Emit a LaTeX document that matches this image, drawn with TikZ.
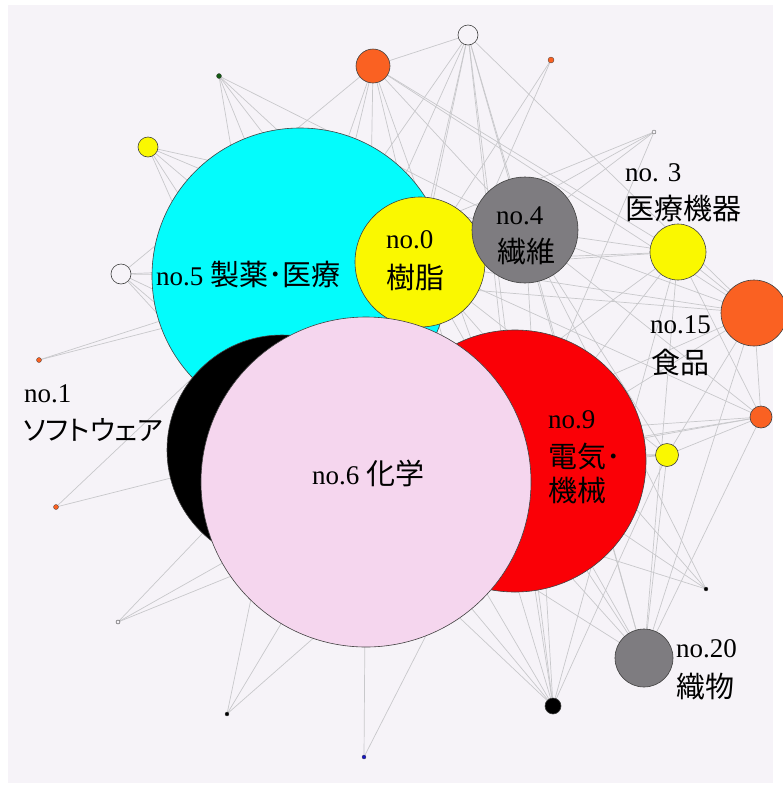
\documentclass[tikz,border=0pt]{standalone}
\usepackage{fontspec}
\setmainfont{Liberation Serif}
\newfontfamily\jpf{Noto Sans CJK JP}
\newfontfamily\jppf[RawFeature=+palt]{Noto Sans CJK JP}
\newcommand\jp{\jpf\fontsize{29}{32}\selectfont}
\newcommand\jpp{\jppf\fontsize{29}{32}\selectfont}
\newcommand\jps{\jppf\fontsize{27.5}{31}\selectfont}
\pgfdeclarelayer{bg}
\pgfdeclarelayer{edges}
\pgfsetlayers{bg,edges,main}
\definecolor{bgc}{RGB}{246,243,248}
\definecolor{cyanc}{RGB}{3,252,252}
\definecolor{yelc}{RGB}{250,248,0}
\definecolor{grayc}{RGB}{126,124,128}
\definecolor{orc}{RGB}{250,97,34}
\definecolor{redc}{RGB}{250,0,6}
\definecolor{pinkc}{RGB}{245,214,238}
\definecolor{edgec}{RGB}{200,200,203}
\definecolor{greenc}{RGB}{20,90,20}
\definecolor{bluec}{RGB}{20,20,200}
\tikzset{
  nd/.style={circle, draw=black!75, line width=0.6pt, inner sep=0pt, minimum size=#1},
  edge/.style={draw=edgec, line width=0.7pt},
  lab/.style={anchor=west, inner sep=0pt, font=\fontsize{27}{30}\selectfont},
}
\begin{document}
\begin{tikzpicture}[x=1pt,y=-1pt]
\useasboundingbox (0,0) rectangle (783,785);
\begin{pgfonlayer}{bg}
\fill[bgc] (8,5) rectangle (773,783);
\end{pgfonlayer}
% big nodes
\node[nd=296pt, fill=cyanc] (n5) at (300,276) {};
\node[nd=130pt, fill=yelc] (n0) at (420,262) {};
\node[nd=106pt, fill=grayc] (n4) at (525,230) {};
\node[nd=230pt, fill=black] (n1) at (282,450) {};
\node[nd=262pt, fill=redc] (n9) at (515,461) {};
\node[nd=330pt, fill=pinkc] (n6) at (366,482) {};
\node[nd=56pt, fill=yelc] (n3) at (678,252) {};
\node[nd=66pt, fill=orc] (n15) at (754,313) {};
\node[nd=58pt, fill=grayc] (n20) at (644,658) {};
% small nodes
\node[nd=34pt, fill=orc] (A) at (373,66) {};
\node[nd=20pt, fill=bgc] (B) at (468,35) {};
\node[nd=6pt, fill=orc, line width=0.3pt] (c) at (551,60) {};
\node[nd=5pt, fill=greenc, line width=0.3pt] (d) at (219,76) {};
\node[nd=20pt, fill=yelc] (e) at (148,147) {};
\node[nd=20pt, fill=bgc] (f) at (121,274) {};
\node[nd=5pt, fill=orc, line width=0.3pt] (g) at (39,360) {};
\node[nd=4pt, fill=bgc, line width=0.3pt] (h) at (654,132) {};
\node[nd=5pt, fill=orc, line width=0.3pt] (i) at (56,507) {};
\node[nd=4pt, fill=bgc, line width=0.4pt] (j) at (118,622) {};
\node[nd=4pt, fill=black, line width=0.3pt] (k) at (227,714) {};
\node[nd=4pt, fill=bluec, line width=0.3pt] (l) at (364,757) {};
\node[nd=16pt, fill=black] (m) at (553,706) {};
\node[nd=4pt, fill=black, line width=0.3pt] (o) at (706,589) {};
\node[nd=23pt, fill=yelc] (p) at (667,455) {};
\node[nd=22pt, fill=orc] (q) at (761,417) {};
% edges
\begin{pgfonlayer}{edges}
\foreach \s/\t in {A/B,A/f,A/n5,A/n1,A/n6,A/n0,A/n9,A/n4,A/n3,A/n15,
  B/n5,B/n1,B/n6,B/n0,B/n9,B/n4,B/n20,B/n15,B/m,
  c/n6,c/n0,
  d/n1,d/n5,d/n9,d/n0,d/n4,
  e/n4,e/n0,e/n5,e/n6,e/n1,
  f/n5,f/n0,f/n9,f/n1,f/n6,
  g/n5,g/n0,
  h/n5,h/n0,h/n9,h/n4,
  i/n1,i/n5,
  j/n1,j/n6,j/n9,
  k/n1,k/n6,k/n9,
  l/n6,l/n9,
  m/n1,m/n6,m/n5,m/n0,m/n9,m/n4,m/n3,m/p,
  n20/n6,n20/n9,n20/n0,n20/n5,n20/n4,n20/n3,n20/n15,n20/q,
  o/n6,o/n9,o/n0,o/n4,
  p/n9,p/n6,p/q,p/n15,p/n0,p/n4,p/n20,p/n1,
  q/n9,q/n6,q/n0,q/n4,q/n3,q/n15,q/n1,
  n3/n4,n3/n0,n3/n5,n3/n6,n3/n9,n3/n15,
  n15/n4,n15/n0,n15/n5,n15/n6,n15/n9}
  \draw[edge] (\s.center) -- (\t.center);
\end{pgfonlayer}
% labels
\node[lab] (t5) at (156,275) {no.5 {\jpp 製薬･医療}};
\node[lab] (t0a) at (386,240) {no.0};
\node[lab] (t0b) at (386,277) {\jp 樹脂};
\node[lab] (t4a) at (496,216) {no.4};
\node[lab] (t4b) at (497,251) {\jp 繊維};
\node[lab] (t3a) at (625,173) {no. 3};
\node[lab] (t3b) at (625,209) {\jp 医療機器};
\node[lab] (t15a) at (650,325) {no.15};
\node[lab] (t15b) at (651,362) {\jp 食品};
\node[lab] (t1a) at (24,394) {no.1};
\node[lab] (t1b) at (23,430) {\jps ソフトウェア};
\node[lab] (t6) at (312,473) {no.6 {\jp 化学}};
\node[lab] (t9a) at (548,420) {no.9};
\node[lab] (t9b) at (548,457) {\jpp 電気･};
\node[lab] (t9c) at (548,491) {\jp 機械};
\node[lab] (t20a) at (676,649) {no.20};
\node[lab] (t20b) at (676,687) {\jp 織物};
\end{tikzpicture}
\end{document}
